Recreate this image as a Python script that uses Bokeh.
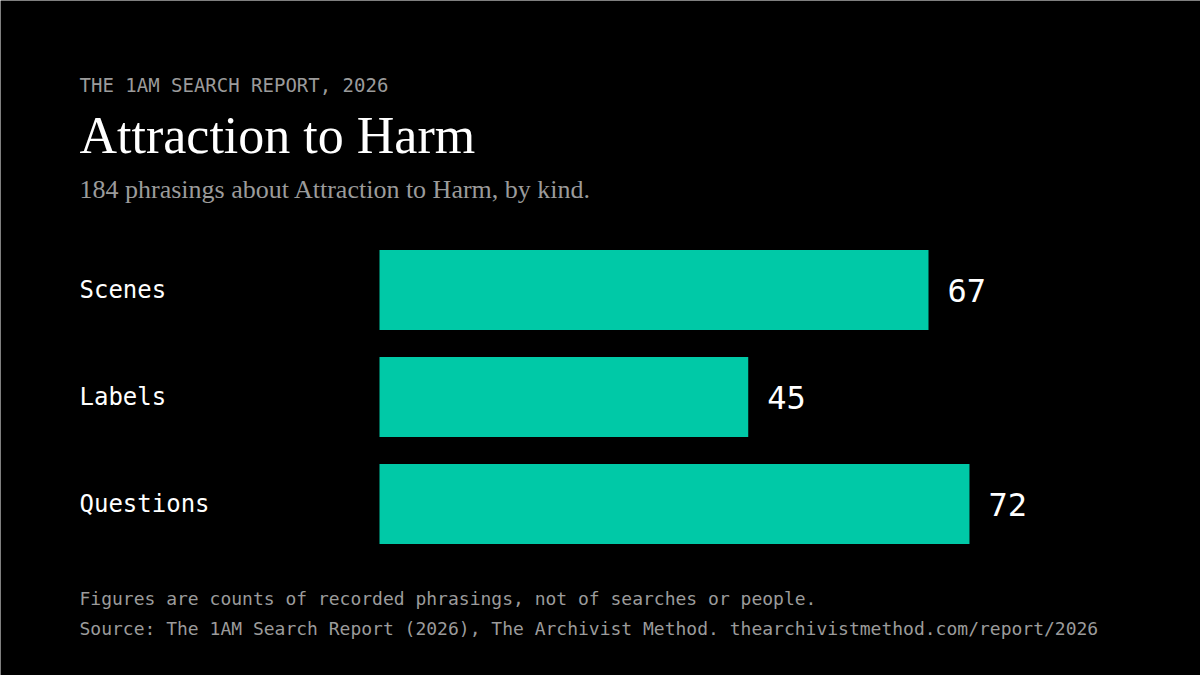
from bokeh.plotting import figure
from bokeh.models import Range1d, ColumnDataSource, LabelSet, Label
from bokeh.core.properties import value
from bokeh.embed import file_html
from bokeh.resources import INLINE

# data
categories = ["Scenes", "Labels", "Questions"]
counts = [67, 45, 72]

# texts
kicker = "THE 1AM SEARCH REPORT, 2026"
title = "Attraction to Harm"
subtitle = "184 phrasings about Attraction to Harm, by kind."
note = "Figures are counts of recorded phrasings, not of searches or people."
source = "Source: The 1AM Search Report (2026), The Archivist Method. thearchivistmethod.com/report/2026"

W, H = 1200, 675
PX_X = 8.194   # pixels per count
PX_Y = 107     # pixels per bar row
X0 = 379       # pixel where the bars start
Y0 = 289.5     # pixel of first bar centre
LEFT = 79      # left edge of the texts

x_start = -X0 / PX_X
x_end = x_start + W / PX_X
y_top = -Y0 / PX_Y
y_bottom = y_top + H / PX_Y


def dx(px):
    return x_start + px / PX_X


def dy(py):
    return y_top + py / PX_Y


MONO = "DejaVu Sans Mono"
SERIF = "Liberation Serif"
BAR = "#00c9a7"
GREY = "#9b9b9b"

src = ColumnDataSource(dict(
    cat=categories,
    count=counts,
    idx=list(range(len(categories))),
    label=[str(c) for c in counts],
))

p = figure(width=W, height=H,
           x_range=Range1d(x_start, x_end),
           y_range=Range1d(y_bottom, y_top),
           x_axis_location=None, y_axis_location=None,
           min_border=0, min_border_left=0, min_border_right=0,
           min_border_top=0, min_border_bottom=0,
           toolbar_location=None, output_backend="svg",
           background_fill_color="#000000", border_fill_color="#000000",
           outline_line_color=None)
p.grid.visible = False

p.hbar(y="idx", left=0, right="count", height=80 / PX_Y, source=src,
       fill_color=BAR, line_color=None)

# category names on the left
p.add_layout(LabelSet(x=dx(LEFT), y="idx", text="cat", source=src,
                      text_font=value(MONO), text_font_size="24px",
                      text_color="#ffffff", text_baseline="middle"))

# values at bar ends
p.add_layout(LabelSet(x="count", y="idx", text="label", source=src,
                      x_offset=19, text_font=value(MONO), text_font_size="32px",
                      text_color="#ffffff", text_baseline="middle"))

# header
p.add_layout(Label(x=dx(LEFT), y=dy(84), text=kicker, text_font=MONO,
                   text_font_size="19px", text_color=GREY,
                   text_baseline="alphabetic"))
p.add_layout(Label(x=dx(LEFT), y=dy(134.5), text=title, text_font=SERIF,
                   text_font_size="52px", text_color="#ffffff",
                   text_baseline="alphabetic"))
p.add_layout(Label(x=dx(LEFT), y=dy(188.5), text=subtitle, text_font=SERIF,
                   text_font_size="26px", text_color=GREY,
                   text_baseline="alphabetic"))

# footer
p.add_layout(Label(x=dx(LEFT), y=dy(598), text=note, text_font=MONO,
                   text_font_size="18px", text_color=GREY,
                   text_baseline="alphabetic"))
p.add_layout(Label(x=dx(LEFT), y=dy(628), text=source, text_font=MONO,
                   text_font_size="18px", text_color=GREY,
                   text_baseline="alphabetic"))

open("out.html", "w").write(file_html(p, INLINE, title="Attraction to Harm"))
